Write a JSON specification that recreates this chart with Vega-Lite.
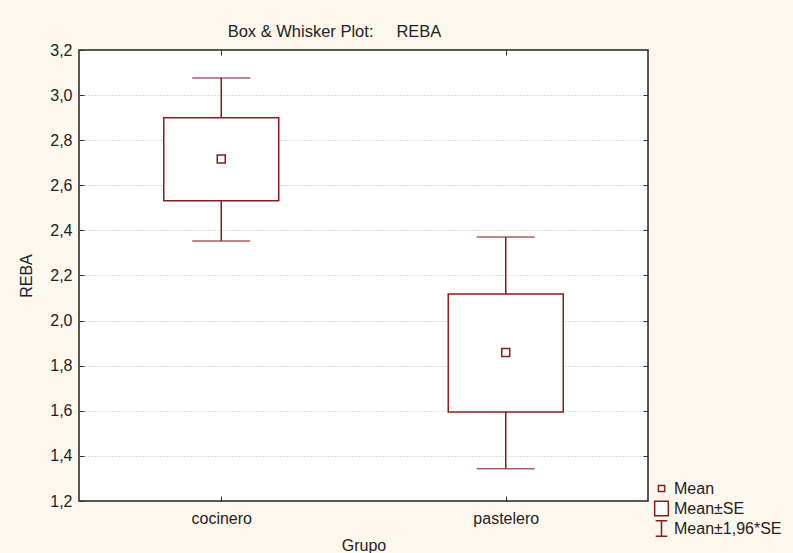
{
  "$schema": "https://vega.github.io/schema/vega-lite/v6.json",
  "width": 569,
  "height": 451,
  "autosize": {"type": "none"},
  "padding": {"left": 79, "top": 50, "right": 145, "bottom": 52},
  "background": "#fdf8ee",
  "title": {
    "text": "Box & Whisker Plot:\u00a0\u00a0\u00a0\u00a0\u00a0REBA",
    "anchor": "middle",
    "dx": -29,
    "offset": 2,
    "fontSize": 16.5,
    "font": "Liberation Sans",
    "fontWeight": "normal",
    "color": "#222222"
  },
  "data": {
    "values": [
      {"grupo": "cocinero", "mean": 2.717, "se_lo": 2.532, "se_hi": 2.900, "ci_lo": 2.353, "ci_hi": 3.076},
      {"grupo": "pastelero", "mean": 1.858, "se_lo": 1.595, "se_hi": 2.118, "ci_lo": 1.343, "ci_hi": 2.371}
    ]
  },
  "config": {
    "font": "Liberation Sans",
    "view": {"fill": "white", "stroke": "#222222", "strokeWidth": 1.5},
    "axis": {
      "labelFont": "Liberation Sans",
      "titleFont": "Liberation Sans",
      "labelFontSize": 16,
      "titleFontSize": 16,
      "labelColor": "#222222",
      "titleColor": "#222222",
      "titleFontWeight": "normal",
      "domain": false,
      "tickColor": "#333333",
      "tickSize": -5,
      "gridColor": "#bdbdbd",
      "gridDash": [1, 2]
    },
    "legend": {
      "labelFont": "Liberation Sans",
      "labelFontSize": 16,
      "labelColor": "#222222"
    }
  },
  "resolve": {"axis": {"x": "independent", "y": "independent"}},
  "layer": [
    {
      "mark": {"type": "rule", "color": "#8c1a1a", "strokeWidth": 1.5},
      "encoding": {
        "x": {
          "field": "grupo", "type": "nominal",
          "scale": {"type": "point", "padding": 0.5},
          "axis": {"orient": "bottom", "title": "Grupo", "labelAngle": 0, "labelPadding": 14, "titlePadding": 11, "grid": false}
        },
        "y": {
          "field": "ci_lo", "type": "quantitative",
          "scale": {"domain": [1.2, 3.2], "nice": false, "zero": false},
          "axis": {
            "orient": "left",
            "title": "REBA",
            "values": [1.2, 1.4, 1.6, 1.8, 2.0, 2.2, 2.4, 2.6, 2.8, 3.0, 3.2],
            "labelExpr": "replace(format(datum.value, '.1f'), '.', ',')",
            "labelPadding": 12,
            "titlePadding": 15,
            "grid": true,
            "gridOpacity": {"condition": {"test": "datum.value < 1.3 || datum.value > 3.1", "value": 0}, "value": 1}
          }
        },
        "y2": {"field": "ci_hi"}
      }
    },
    {
      "mark": {"type": "tick", "color": "#8c1a1a", "size": 58, "thickness": 1.5},
      "encoding": {
        "x": {"field": "grupo", "type": "nominal", "axis": {"orient": "top", "labels": false, "title": null, "grid": false}},
        "y": {
          "field": "ci_hi", "type": "quantitative",
          "axis": {"orient": "right", "labels": false, "title": null, "grid": false, "values": [1.4, 1.6, 1.8, 2.0, 2.2, 2.4, 2.6, 2.8, 3.0]}
        }
      }
    },
    {
      "mark": {"type": "tick", "color": "#8c1a1a", "size": 58, "thickness": 1.5},
      "encoding": {
        "x": {"field": "grupo", "type": "nominal", "axis": null},
        "y": {"field": "ci_lo", "type": "quantitative", "axis": null}
      }
    },
    {
      "mark": {"type": "bar", "size": 115, "fill": "white", "stroke": "#8c1a1a", "strokeWidth": 1.5},
      "encoding": {
        "x": {"field": "grupo", "type": "nominal", "axis": null},
        "y": {"field": "se_lo", "type": "quantitative", "axis": null},
        "y2": {"field": "se_hi"}
      }
    },
    {
      "mark": {"type": "point", "filled": true, "fill": "white", "stroke": "#8c1a1a", "strokeWidth": 1.5, "size": 400, "opacity": 1},
      "encoding": {
        "x": {"field": "grupo", "type": "nominal", "axis": null},
        "y": {"field": "mean", "type": "quantitative", "axis": null},
        "shape": {
          "datum": "Mean",
          "type": "nominal",
          "scale": {
            "domain": ["Mean", "Mean±SE", "Mean±1,96*SE"],
            "range": [
              "M0,-1M0,1M-0.4,-0.4H0.4V0.4H-0.4Z",
              "M0,-1M0,1M-0.88,-0.95H0.88V0.95H-0.88Z",
              "M0,-1M0,1M-0.75,-1H0.75M0,-1V1M-0.75,1H0.75"
            ]
          },
          "legend": {
            "orient": "none",
            "legendX": 574,
            "legendY": 430,
            "title": null,
            "padding": 0,
            "symbolSize": 240,
            "labelOffset": 4,
            "rowPadding": -5,
            "encode": {
              "symbols": {
                "update": {
                  "fill": {"value": "transparent"},
                  "stroke": {"value": "#8c1a1a"},
                  "strokeWidth": {"value": 1.5},
                  "opacity": {"value": 1}
                }
              }
            }
          }
        }
      }
    }
  ]
}
